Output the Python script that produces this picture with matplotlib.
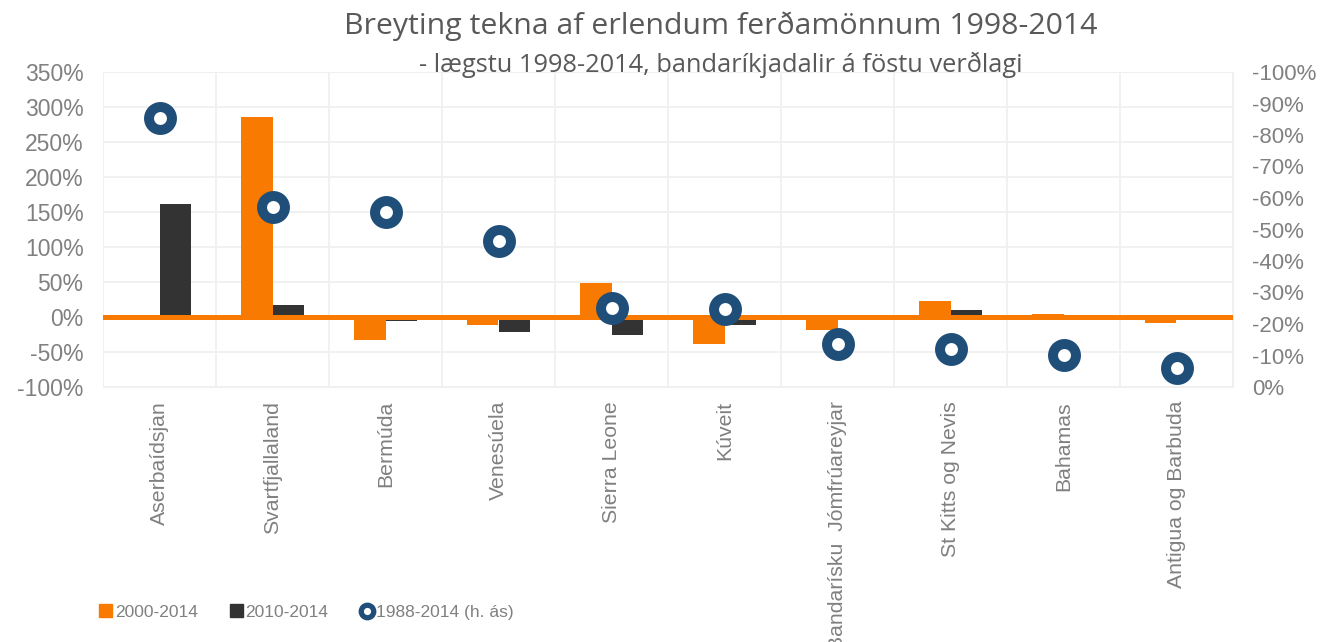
import numpy as np
import matplotlib.pyplot as plt
from matplotlib.lines import Line2D
from matplotlib.patches import Patch
from matplotlib.ticker import FuncFormatter

# data
countries = ['Aserbaídsjan', 'Svartfjallaland', 'Bermúda', 'Venesúela', 'Sierra Leone',
             'Kúveit', 'Bandarísku  Jómfrúareyjar', 'St Kitts og Nevis', 'Bahamas',
             'Antigua og Barbuda']
chg_2000_2014 = [0, 286, -33, -11, 49, -39, -18, 23, 5, -9]   # % (left axis)
chg_2010_2014 = [162, 17, -5, -22, -25, -12, 3, 10, 0, -3]     # % (left axis)
chg_1988_2014 = [-85.5, -57, -55.7, -46.3, -25.2, -24.8, -13.6, -12, -10.2, -5.9]  # % (right axis)

ORANGE = '#F97A00'
DARK = '#333333'
BLUE = '#1F4E79'
GREY = '#808080'

fig = plt.figure(figsize=(13.24, 6.42), dpi=100)
ax = fig.add_axes([103/1324, 1-387/642, 1130/1324, 315/642])

x = np.arange(len(countries))
w = 0.283
ax.bar(x - w/2, chg_2000_2014, w, color=ORANGE, zorder=2)
ax.bar(x + w/2, chg_2010_2014, w, color=DARK, zorder=2)
ax.axhline(0, color=ORANGE, lw=3.6, zorder=3)

ax.set_xlim(-0.5, len(countries) - 0.5)
ax.set_ylim(-100, 350)
ax.set_yticks(np.arange(-100, 351, 50))
ax.yaxis.set_major_formatter(FuncFormatter(lambda v, p: f'{v:.0f}%'))
ax.set_xticks(x)
ax.set_xticklabels(countries, rotation=90, va='top', ha='center')
ax.set_xticks(np.arange(-0.5, len(countries), 1), minor=True)
ax.grid(axis='y', which='major', color='#F0F0F0', lw=1.3, zorder=0)
ax.grid(axis='x', which='minor', color='#F0F0F0', lw=1.3, zorder=0)
ax.tick_params(which='both', length=0)
ax.tick_params(axis='y', labelsize=16.5, labelcolor=GREY, pad=14)
ax.tick_params(axis='x', labelsize=15.3, labelcolor=GREY, pad=10)
for s in ax.spines.values():
    s.set_color('#F0F0F0')
for lbl in ax.get_yticklabels() + ax.get_xticklabels():
    lbl.set_family('Liberation Sans')

ax2 = ax.twinx()
ax2.plot(x, chg_1988_2014, 'o', ms=16.5, mew=7.2, mfc='white', mec=BLUE, zorder=5)
ax2.set_ylim(0, -100)
ax2.set_yticks(np.arange(0, -101, -10))
ax2.yaxis.set_major_formatter(FuncFormatter(lambda v, p: f'{v:.0f}%'))
ax2.tick_params(length=0, labelsize=16, labelcolor=GREY, pad=14)
for lbl in ax2.get_yticklabels():
    lbl.set_family('Liberation Sans')
for s in ax2.spines.values():
    s.set_visible(False)

fig.text(721/1324, 1-26/642, 'Breyting tekna af erlendum ferðamönnum 1998-2014',
         ha='center', va='center', fontsize=21.8, color='#595959', family='Open Sans')
fig.text(721/1324, 1-65/642, '- lægstu 1998-2014, bandaríkjadalir á föstu verðlagi',
         ha='center', va='center', fontsize=18.3, color='#595959', family='Open Sans')

handles = [Patch(color=ORANGE), Patch(color=DARK),
           Line2D([], [], ls='none', marker='o', ms=9, mew=3.8, mfc='white', mec=BLUE)]
fig.legend(handles, ['2000-2014', '2010-2014', '1988-2014 (h. ás)'],
           loc='center left', bbox_to_anchor=(99/1324, 1-612/642), ncol=3, frameon=False,
           borderpad=0, borderaxespad=0,
           handlelength=0.75, handleheight=0.75, handletextpad=0.15, columnspacing=1.85,
           prop={'family': 'Liberation Sans', 'size': 12.5}, labelcolor=GREY)

fig.savefig('out.png', dpi=100)
